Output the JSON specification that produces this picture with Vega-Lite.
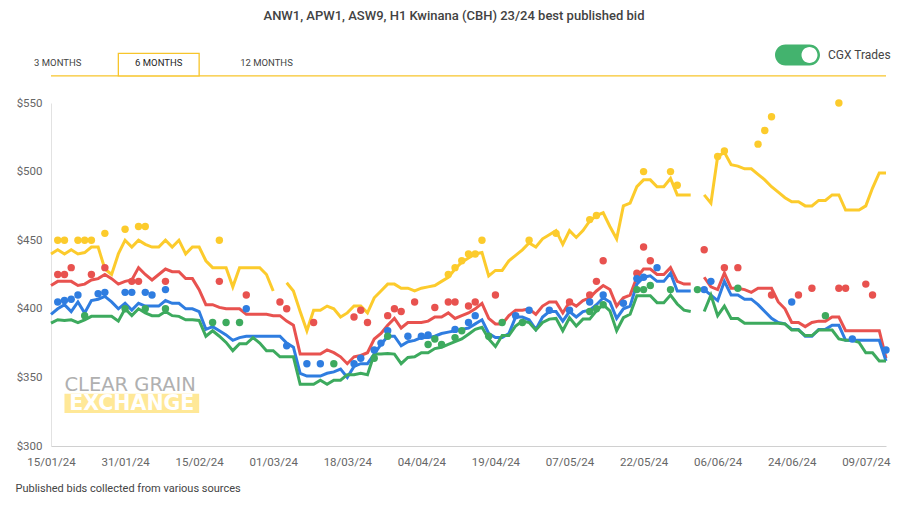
{
  "$schema": "https://vega.github.io/schema/vega-lite/v6.json",
  "width": 835,
  "height": 343,
  "autosize": {"type": "none"},
  "padding": {"left": 51, "top": 103, "right": 22, "bottom": 59},
  "background": "white",
  "config": {
    "view": {"stroke": null},
    "font": "Roboto",
    "legend": {"padding": 0, "titlePadding": 0}
  },
  "title": {
    "text": "ANW1, APW1, ASW9, H1 Kwinana (CBH) 23/24 best published bid",
    "anchor": "middle",
    "frame": "group",
    "dx": -14.5,
    "offset": 20,
    "baseline": "middle",
    "font": "Roboto",
    "fontSize": 13,
    "fontWeight": 500,
    "color": "#424242"
  },
  "datasets": {
    "lines": [
      {"d":"15/01/24","H1":440,"ANW1":417,"APW1":396,"ASW9":389.5},
      {"d":"16/01/24","H1":443,"ANW1":420,"APW1":400,"ASW9":392},
      {"d":"17/01/24","H1":440,"ANW1":420,"APW1":403,"ASW9":391.5},
      {"d":"18/01/24","H1":443,"ANW1":420,"APW1":398,"ASW9":392},
      {"d":"19/01/24","H1":440,"ANW1":417,"APW1":405,"ASW9":390},
      {"d":"22/01/24","H1":441,"ANW1":418,"APW1":397,"ASW9":392},
      {"d":"23/01/24","H1":445,"ANW1":421,"APW1":406,"ASW9":394.5},
      {"d":"24/01/24","H1":445,"ANW1":422,"APW1":407,"ASW9":394.5},
      {"d":"25/01/24","H1":429,"ANW1":425,"APW1":409,"ASW9":394.5},
      {"d":"29/01/24","H1":425,"ANW1":422,"APW1":405,"ASW9":394.5},
      {"d":"30/01/24","H1":440,"ANW1":418,"APW1":400,"ASW9":391},
      {"d":"31/01/24","H1":450,"ANW1":420,"APW1":404,"ASW9":400},
      {"d":"01/02/24","H1":445,"ANW1":421,"APW1":399,"ASW9":395},
      {"d":"02/02/24","H1":450,"ANW1":430,"APW1":404,"ASW9":400},
      {"d":"05/02/24","H1":447,"ANW1":425,"APW1":402,"ASW9":397},
      {"d":"06/02/24","H1":445,"ANW1":421,"APW1":402,"ASW9":395},
      {"d":"07/02/24","H1":445,"ANW1":425,"APW1":402,"ASW9":395},
      {"d":"08/02/24","H1":450,"ANW1":429,"APW1":406,"ASW9":398},
      {"d":"09/02/24","H1":445,"ANW1":427,"APW1":404,"ASW9":395},
      {"d":"12/02/24","H1":450,"ANW1":427,"APW1":404,"ASW9":394.5},
      {"d":"13/02/24","H1":440,"ANW1":422,"APW1":400,"ASW9":392},
      {"d":"14/02/24","H1":445,"ANW1":422,"APW1":400,"ASW9":392},
      {"d":"15/02/24","H1":445,"ANW1":414,"APW1":398,"ASW9":391.5},
      {"d":"16/02/24","H1":435,"ANW1":403,"APW1":385,"ASW9":380},
      {"d":"19/02/24","H1":430,"ANW1":403,"APW1":387,"ASW9":384},
      {"d":"20/02/24","H1":430,"ANW1":401,"APW1":384,"ASW9":380},
      {"d":"21/02/24","H1":430,"ANW1":400,"APW1":381,"ASW9":375.5},
      {"d":"22/02/24","H1":416,"ANW1":400,"APW1":377,"ASW9":369.5},
      {"d":"23/02/24","H1":430,"ANW1":400,"APW1":379,"ASW9":374.5},
      {"d":"26/02/24","H1":430,"ANW1":396,"APW1":380,"ASW9":374.5},
      {"d":"27/02/24","H1":430,"ANW1":396,"APW1":380,"ASW9":379},
      {"d":"28/02/24","H1":430,"ANW1":396,"APW1":380,"ASW9":375},
      {"d":"29/02/24","H1":425,"ANW1":396,"APW1":380,"ASW9":369.5},
      {"d":"01/03/24","H1":413,"ANW1":395,"APW1":380,"ASW9":369.5},
      {"d":"04/03/24","H1":null,"ANW1":395,"APW1":380,"ASW9":365},
      {"d":"05/03/24","H1":419,"ANW1":391,"APW1":375,"ASW9":365},
      {"d":"06/03/24","H1":413,"ANW1":388,"APW1":372,"ASW9":365},
      {"d":"07/03/24","H1":398,"ANW1":367,"APW1":353,"ASW9":345},
      {"d":"08/03/24","H1":384,"ANW1":367,"APW1":351,"ASW9":345},
      {"d":"11/03/24","H1":399,"ANW1":367,"APW1":351,"ASW9":345},
      {"d":"12/03/24","H1":399,"ANW1":367,"APW1":351,"ASW9":348},
      {"d":"13/03/24","H1":402,"ANW1":370,"APW1":353,"ASW9":345},
      {"d":"14/03/24","H1":400,"ANW1":368,"APW1":354,"ASW9":348},
      {"d":"15/03/24","H1":394,"ANW1":365,"APW1":356,"ASW9":348},
      {"d":"18/03/24","H1":397,"ANW1":360,"APW1":350,"ASW9":352},
      {"d":"19/03/24","H1":402,"ANW1":365,"APW1":358,"ASW9":352},
      {"d":"20/03/24","H1":402,"ANW1":366,"APW1":360,"ASW9":353},
      {"d":"21/03/24","H1":397,"ANW1":368,"APW1":360,"ASW9":352},
      {"d":"22/03/24","H1":408,"ANW1":378,"APW1":367,"ASW9":367},
      {"d":"25/03/24","H1":413,"ANW1":382,"APW1":374,"ASW9":367},
      {"d":"26/03/24","H1":418,"ANW1":388,"APW1":380,"ASW9":367.5},
      {"d":"27/03/24","H1":418,"ANW1":393,"APW1":380,"ASW9":367},
      {"d":"28/03/24","H1":415,"ANW1":386,"APW1":373,"ASW9":360},
      {"d":"02/04/24","H1":415,"ANW1":390,"APW1":376,"ASW9":364.5},
      {"d":"03/04/24","H1":413,"ANW1":390,"APW1":377,"ASW9":365},
      {"d":"04/04/24","H1":415,"ANW1":390,"APW1":379,"ASW9":368},
      {"d":"05/04/24","H1":416,"ANW1":391,"APW1":379,"ASW9":368},
      {"d":"08/04/24","H1":417,"ANW1":394,"APW1":380,"ASW9":371},
      {"d":"09/04/24","H1":420,"ANW1":394,"APW1":382,"ASW9":372},
      {"d":"10/04/24","H1":423,"ANW1":397,"APW1":383,"ASW9":374},
      {"d":"11/04/24","H1":429,"ANW1":393,"APW1":384,"ASW9":376},
      {"d":"12/04/24","H1":434,"ANW1":395,"APW1":385,"ASW9":378},
      {"d":"15/04/24","H1":437,"ANW1":397,"APW1":386,"ASW9":381.5},
      {"d":"16/04/24","H1":440,"ANW1":400,"APW1":389,"ASW9":385},
      {"d":"17/04/24","H1":441,"ANW1":404,"APW1":392,"ASW9":386.5},
      {"d":"18/04/24","H1":424,"ANW1":393,"APW1":382,"ASW9":378},
      {"d":"19/04/24","H1":428,"ANW1":389,"APW1":379,"ASW9":372.5},
      {"d":"22/04/24","H1":428,"ANW1":389,"APW1":379,"ASW9":380.5},
      {"d":"23/04/24","H1":435,"ANW1":395,"APW1":382,"ASW9":380.5},
      {"d":"24/04/24","H1":439,"ANW1":399,"APW1":394,"ASW9":387.5},
      {"d":"26/04/24","H1":443,"ANW1":399,"APW1":394,"ASW9":391},
      {"d":"29/04/24","H1":448,"ANW1":400,"APW1":392,"ASW9":390},
      {"d":"30/04/24","H1":445,"ANW1":396,"APW1":385,"ASW9":384.5},
      {"d":"01/05/24","H1":451,"ANW1":402,"APW1":394,"ASW9":390},
      {"d":"02/05/24","H1":454,"ANW1":405,"APW1":398,"ASW9":392.5},
      {"d":"03/05/24","H1":457,"ANW1":405,"APW1":398,"ASW9":393},
      {"d":"06/05/24","H1":447,"ANW1":397,"APW1":391,"ASW9":384},
      {"d":"07/05/24","H1":457,"ANW1":405,"APW1":398,"ASW9":393.5},
      {"d":"08/05/24","H1":452,"ANW1":402,"APW1":394,"ASW9":387.5},
      {"d":"09/05/24","H1":457,"ANW1":406,"APW1":398,"ASW9":392.5},
      {"d":"10/05/24","H1":464,"ANW1":408,"APW1":399,"ASW9":392.5},
      {"d":"13/05/24","H1":468,"ANW1":413,"APW1":403,"ASW9":398.5},
      {"d":"14/05/24","H1":470,"ANW1":417,"APW1":408,"ASW9":403},
      {"d":"15/05/24","H1":460,"ANW1":414,"APW1":405,"ASW9":398.5},
      {"d":"16/05/24","H1":451,"ANW1":402,"APW1":393,"ASW9":384},
      {"d":"17/05/24","H1":475,"ANW1":408,"APW1":400,"ASW9":393.5},
      {"d":"20/05/24","H1":477,"ANW1":410,"APW1":402,"ASW9":396},
      {"d":"21/05/24","H1":489,"ANW1":423,"APW1":418,"ASW9":409.5},
      {"d":"22/05/24","H1":494,"ANW1":429,"APW1":423,"ASW9":409.5},
      {"d":"23/05/24","H1":494,"ANW1":429,"APW1":424,"ASW9":409.5},
      {"d":"24/05/24","H1":489,"ANW1":425,"APW1":420,"ASW9":404.5},
      {"d":"27/05/24","H1":489,"ANW1":425,"APW1":420,"ASW9":404.5},
      {"d":"28/05/24","H1":495,"ANW1":430,"APW1":426,"ASW9":410},
      {"d":"29/05/24","H1":483,"ANW1":420,"APW1":413,"ASW9":403.5},
      {"d":"30/05/24","H1":483,"ANW1":418,"APW1":413,"ASW9":399},
      {"d":"31/05/24","H1":483,"ANW1":418,"APW1":413,"ASW9":398},
      {"d":"03/06/24","H1":null,"ANW1":null,"APW1":null,"ASW9":null},
      {"d":"04/06/24","H1":483,"ANW1":423,"APW1":414,"ASW9":398},
      {"d":"05/06/24","H1":477,"ANW1":416,"APW1":410,"ASW9":410},
      {"d":"06/06/24","H1":511,"ANW1":414,"APW1":406,"ASW9":395},
      {"d":"07/06/24","H1":514,"ANW1":426,"APW1":420,"ASW9":402},
      {"d":"11/06/24","H1":505,"ANW1":415,"APW1":410,"ASW9":393},
      {"d":"12/06/24","H1":504,"ANW1":415,"APW1":410,"ASW9":393},
      {"d":"13/06/24","H1":502,"ANW1":414,"APW1":407,"ASW9":389.5},
      {"d":"14/06/24","H1":502,"ANW1":412,"APW1":407,"ASW9":389.5},
      {"d":"17/06/24","H1":498,"ANW1":415,"APW1":403,"ASW9":389.5},
      {"d":"18/06/24","H1":494,"ANW1":415,"APW1":398,"ASW9":389.5},
      {"d":"19/06/24","H1":489,"ANW1":415,"APW1":393,"ASW9":389.5},
      {"d":"20/06/24","H1":485,"ANW1":405,"APW1":390,"ASW9":389.5},
      {"d":"21/06/24","H1":481,"ANW1":400,"APW1":389,"ASW9":389},
      {"d":"24/06/24","H1":478,"ANW1":390,"APW1":385,"ASW9":384.5},
      {"d":"25/06/24","H1":478,"ANW1":390,"APW1":385,"ASW9":384.5},
      {"d":"26/06/24","H1":475,"ANW1":387,"APW1":380,"ASW9":380.5},
      {"d":"27/06/24","H1":475,"ANW1":390,"APW1":380,"ASW9":380.5},
      {"d":"28/06/24","H1":479,"ANW1":391,"APW1":385,"ASW9":384.5},
      {"d":"01/07/24","H1":479,"ANW1":391,"APW1":385,"ASW9":384.5},
      {"d":"02/07/24","H1":483,"ANW1":394,"APW1":388,"ASW9":384.5},
      {"d":"03/07/24","H1":483,"ANW1":394,"APW1":388,"ASW9":378},
      {"d":"04/07/24","H1":472,"ANW1":384,"APW1":377,"ASW9":377},
      {"d":"05/07/24","H1":472,"ANW1":384,"APW1":377,"ASW9":377},
      {"d":"08/07/24","H1":472,"ANW1":384,"APW1":377,"ASW9":375.5},
      {"d":"09/07/24","H1":475,"ANW1":384,"APW1":377,"ASW9":368},
      {"d":"10/07/24","H1":488,"ANW1":384,"APW1":377,"ASW9":368},
      {"d":"11/07/24","H1":499,"ANW1":384,"APW1":377,"ASW9":362},
      {"d":"12/07/24","H1":499,"ANW1":364,"APW1":362,"ASW9":362}
    ],
    "trades": [
      {"d":"16/01/24","s":"H1","v":450},{"d":"17/01/24","s":"H1","v":450},{"d":"19/01/24","s":"H1","v":450},
      {"d":"22/01/24","s":"H1","v":450},{"d":"23/01/24","s":"H1","v":450},{"d":"25/01/24","s":"H1","v":455},
      {"d":"31/01/24","s":"H1","v":458},{"d":"02/02/24","s":"H1","v":460},{"d":"05/02/24","s":"H1","v":460},
      {"d":"20/02/24","s":"H1","v":450},{"d":"10/04/24","s":"H1","v":425},{"d":"11/04/24","s":"H1","v":430},
      {"d":"12/04/24","s":"H1","v":435},{"d":"15/04/24","s":"H1","v":440},{"d":"16/04/24","s":"H1","v":440},
      {"d":"17/04/24","s":"H1","v":450},{"d":"29/04/24","s":"H1","v":450},{"d":"03/05/24","s":"H1","v":455},
      {"d":"10/05/24","s":"H1","v":465},{"d":"13/05/24","s":"H1","v":468},{"d":"22/05/24","s":"H1","v":500},
      {"d":"28/05/24","s":"H1","v":500},{"d":"29/05/24","s":"H1","v":490},{"d":"06/06/24","s":"H1","v":511},
      {"d":"07/06/24","s":"H1","v":515},{"d":"17/06/24","s":"H1","v":520},{"d":"18/06/24","s":"H1","v":530},
      {"d":"19/06/24","s":"H1","v":540},{"d":"03/07/24","s":"H1","v":550},
      {"d":"16/01/24","s":"ANW1","v":425},{"d":"17/01/24","s":"ANW1","v":425},{"d":"18/01/24","s":"ANW1","v":430},
      {"d":"23/01/24","s":"ANW1","v":425},{"d":"25/01/24","s":"ANW1","v":430},{"d":"01/02/24","s":"ANW1","v":420},
      {"d":"02/02/24","s":"ANW1","v":420},{"d":"08/02/24","s":"ANW1","v":420},{"d":"20/02/24","s":"ANW1","v":420},
      {"d":"26/02/24","s":"ANW1","v":410},{"d":"04/03/24","s":"ANW1","v":405},{"d":"05/03/24","s":"ANW1","v":400},
      {"d":"11/03/24","s":"ANW1","v":390},{"d":"19/03/24","s":"ANW1","v":394},{"d":"20/03/24","s":"ANW1","v":399},
      {"d":"21/03/24","s":"ANW1","v":390},{"d":"26/03/24","s":"ANW1","v":395},{"d":"27/03/24","s":"ANW1","v":400},
      {"d":"28/03/24","s":"ANW1","v":398},{"d":"03/04/24","s":"ANW1","v":405},{"d":"08/04/24","s":"ANW1","v":401},
      {"d":"10/04/24","s":"ANW1","v":405},{"d":"11/04/24","s":"ANW1","v":405},{"d":"15/04/24","s":"ANW1","v":402},
      {"d":"16/04/24","s":"ANW1","v":405},{"d":"19/04/24","s":"ANW1","v":410},{"d":"07/05/24","s":"ANW1","v":405},
      {"d":"10/05/24","s":"ANW1","v":410},{"d":"13/05/24","s":"ANW1","v":420},{"d":"14/05/24","s":"ANW1","v":435},
      {"d":"21/05/24","s":"ANW1","v":426},{"d":"22/05/24","s":"ANW1","v":445},{"d":"23/05/24","s":"ANW1","v":435},
      {"d":"04/06/24","s":"ANW1","v":443},{"d":"07/06/24","s":"ANW1","v":430},{"d":"12/06/24","s":"ANW1","v":430},
      {"d":"19/06/24","s":"ANW1","v":410},{"d":"25/06/24","s":"ANW1","v":410},{"d":"27/06/24","s":"ANW1","v":415},
      {"d":"03/07/24","s":"ANW1","v":415},{"d":"04/07/24","s":"ANW1","v":415},{"d":"09/07/24","s":"ANW1","v":418},
      {"d":"10/07/24","s":"ANW1","v":410},
      {"d":"16/01/24","s":"APW1","v":405},{"d":"17/01/24","s":"APW1","v":406},{"d":"18/01/24","s":"APW1","v":407},
      {"d":"19/01/24","s":"APW1","v":410},{"d":"24/01/24","s":"APW1","v":411},{"d":"25/01/24","s":"APW1","v":412},
      {"d":"31/01/24","s":"APW1","v":412},{"d":"01/02/24","s":"APW1","v":412},{"d":"05/02/24","s":"APW1","v":412},
      {"d":"06/02/24","s":"APW1","v":410},{"d":"08/02/24","s":"APW1","v":414},{"d":"26/02/24","s":"APW1","v":400},
      {"d":"05/03/24","s":"APW1","v":373},{"d":"08/03/24","s":"APW1","v":360},{"d":"12/03/24","s":"APW1","v":360},
      {"d":"19/03/24","s":"APW1","v":360},{"d":"20/03/24","s":"APW1","v":364},{"d":"22/03/24","s":"APW1","v":370},
      {"d":"25/03/24","s":"APW1","v":375},{"d":"26/03/24","s":"APW1","v":384},{"d":"02/04/24","s":"APW1","v":380},
      {"d":"04/04/24","s":"APW1","v":380},{"d":"05/04/24","s":"APW1","v":381},{"d":"11/04/24","s":"APW1","v":385},
      {"d":"15/04/24","s":"APW1","v":390},{"d":"16/04/24","s":"APW1","v":395},{"d":"24/04/24","s":"APW1","v":395},
      {"d":"29/04/24","s":"APW1","v":399},{"d":"02/05/24","s":"APW1","v":399},{"d":"07/05/24","s":"APW1","v":399},
      {"d":"10/05/24","s":"APW1","v":405},{"d":"14/05/24","s":"APW1","v":410},{"d":"17/05/24","s":"APW1","v":404},
      {"d":"21/05/24","s":"APW1","v":422},{"d":"22/05/24","s":"APW1","v":423},{"d":"24/05/24","s":"APW1","v":430},
      {"d":"04/06/24","s":"APW1","v":414},{"d":"05/06/24","s":"APW1","v":420},{"d":"24/06/24","s":"APW1","v":405},
      {"d":"05/07/24","s":"APW1","v":378},{"d":"12/07/24","s":"APW1","v":370},
      {"d":"22/01/24","s":"ASW9","v":395},{"d":"31/01/24","s":"ASW9","v":400},{"d":"05/02/24","s":"ASW9","v":400},
      {"d":"08/02/24","s":"ASW9","v":400},{"d":"19/02/24","s":"ASW9","v":390},{"d":"21/02/24","s":"ASW9","v":390},
      {"d":"23/02/24","s":"ASW9","v":390},{"d":"14/03/24","s":"ASW9","v":360},{"d":"22/03/24","s":"ASW9","v":364},
      {"d":"26/03/24","s":"ASW9","v":380},{"d":"05/04/24","s":"ASW9","v":374},{"d":"08/04/24","s":"ASW9","v":378},
      {"d":"09/04/24","s":"ASW9","v":374},{"d":"11/04/24","s":"ASW9","v":379},{"d":"12/04/24","s":"ASW9","v":384},
      {"d":"18/04/24","s":"ASW9","v":380},{"d":"22/04/24","s":"ASW9","v":390},{"d":"26/04/24","s":"ASW9","v":390},
      {"d":"10/05/24","s":"ASW9","v":398},{"d":"13/05/24","s":"ASW9","v":400},{"d":"14/05/24","s":"ASW9","v":403},
      {"d":"21/05/24","s":"ASW9","v":414},{"d":"22/05/24","s":"ASW9","v":414},{"d":"23/05/24","s":"ASW9","v":417},
      {"d":"28/05/24","s":"ASW9","v":414},{"d":"03/06/24","s":"ASW9","v":414},{"d":"12/06/24","s":"ASW9","v":415},
      {"d":"01/07/24","s":"ASW9","v":395}
    ]
  },
  "layer": [
    {
      "data": {"values": [{"band": "tabline"}]},
      "mark": {"type": "rule", "color": "#F7C52B", "strokeWidth": 1.3},
      "encoding": {
        "y": {"datum": 569.7, "type": "quantitative", "scale": {"domain": [300, 550]}}
      }
    },
    {
      "data": {"values": [{"band": "tabbox"}]},
      "mark": {"type": "rect", "fill": "#ffffff", "stroke": "#F7C52B", "strokeWidth": 1.3},
      "encoding": {
        "x": {"datum": "30/01/24", "type": "ordinal"},
        "x2": {"datum": "15/02/24"},
        "y": {"datum": 586.1, "type": "quantitative", "scale": {"domain": [300, 550]}},
        "y2": {"datum": 569.7}
      }
    },
    {
      "data": {"values": [{"label": "3 MONTHS"}]},
      "mark": {"type": "text", "align": "center", "baseline": "middle", "font": "Roboto", "fontSize": 9.5, "color": "#444444"},
      "encoding": {
        "x": {"datum": "16/01/24", "type": "ordinal"},
        "y": {"datum": 578.8, "type": "quantitative", "scale": {"domain": [300, 550]}},
        "text": {"field": "label"}
      }
    },
    {
      "data": {"values": [{"label": "6 MONTHS"}]},
      "mark": {"type": "text", "align": "center", "baseline": "middle", "font": "Roboto", "fontSize": 9.5, "color": "#1f1f1f"},
      "encoding": {
        "x": {"datum": "07/02/24", "type": "ordinal"},
        "y": {"datum": 578.8, "type": "quantitative", "scale": {"domain": [300, 550]}},
        "text": {"field": "label"}
      }
    },
    {
      "data": {"values": [{"label": "12 MONTHS"}]},
      "mark": {"type": "text", "align": "center", "baseline": "middle", "font": "Roboto", "fontSize": 9.5, "color": "#444444"},
      "encoding": {
        "x": {"datum": "29/02/24", "type": "ordinal"},
        "y": {"datum": 578.8, "type": "quantitative", "scale": {"domain": [300, 550]}},
        "text": {"field": "label"}
      }
    },
    {
      "data": {"values": [{"band": "logo"}]},
      "mark": {"type": "rect", "color": "#FFE58C", "opacity": 0.9},
      "encoding": {
        "x": {"datum": "17/01/24", "type": "ordinal"},
        "x2": {"datum": "15/02/24"},
        "y": {"datum": 324, "type": "quantitative", "scale": {"domain": [300, 550]}},
        "y2": {"datum": 338}
      }
    },
    {
      "data": {"values": [{"label": "CLEAR GRAIN"}]},
      "mark": {"type": "text", "align": "left", "baseline": "alphabetic", "font": "DejaVu Sans", "fontSize": 19.5, "color": "#b0b0b0"},
      "encoding": {
        "x": {"datum": "17/01/24", "type": "ordinal"},
        "y": {"datum": 340.2, "type": "quantitative", "scale": {"domain": [300, 550]}},
        "text": {"field": "label"}
      }
    },
    {
      "data": {"values": [{"label": "EXCHANGE"}]},
      "mark": {"type": "text", "align": "center", "baseline": "middle", "font": "DejaVu Sans", "fontSize": 20.5, "fontWeight": "bold", "color": "#ffffff"},
      "encoding": {
        "x": {"datum": "01/02/24", "type": "ordinal"},
        "y": {"datum": 330.6, "type": "quantitative", "scale": {"domain": [300, 550]}},
        "text": {"field": "label"}
      }
    },
    {
      "data": {"name": "lines"},
      "transform": [{"fold": ["H1", "ANW1", "APW1", "ASW9"], "as": ["s", "v"]}],
      "mark": {"type": "line", "strokeWidth": 3, "invalid": "break-paths-filter-domains"},
      "encoding": {
        "x": {
          "field": "d",
          "type": "ordinal",
          "scale": {
            "type": "point",
            "padding": 0,
            "domain": ["15/01/24","16/01/24","17/01/24","18/01/24","19/01/24","22/01/24","23/01/24","24/01/24","25/01/24","29/01/24","30/01/24","31/01/24","01/02/24","02/02/24","05/02/24","06/02/24","07/02/24","08/02/24","09/02/24","12/02/24","13/02/24","14/02/24","15/02/24","16/02/24","19/02/24","20/02/24","21/02/24","22/02/24","23/02/24","26/02/24","27/02/24","28/02/24","29/02/24","01/03/24","04/03/24","05/03/24","06/03/24","07/03/24","08/03/24","11/03/24","12/03/24","13/03/24","14/03/24","15/03/24","18/03/24","19/03/24","20/03/24","21/03/24","22/03/24","25/03/24","26/03/24","27/03/24","28/03/24","02/04/24","03/04/24","04/04/24","05/04/24","08/04/24","09/04/24","10/04/24","11/04/24","12/04/24","15/04/24","16/04/24","17/04/24","18/04/24","19/04/24","22/04/24","23/04/24","24/04/24","26/04/24","29/04/24","30/04/24","01/05/24","02/05/24","03/05/24","06/05/24","07/05/24","08/05/24","09/05/24","10/05/24","13/05/24","14/05/24","15/05/24","16/05/24","17/05/24","20/05/24","21/05/24","22/05/24","23/05/24","24/05/24","27/05/24","28/05/24","29/05/24","30/05/24","31/05/24","03/06/24","04/06/24","05/06/24","06/06/24","07/06/24","11/06/24","12/06/24","13/06/24","14/06/24","17/06/24","18/06/24","19/06/24","20/06/24","21/06/24","24/06/24","25/06/24","26/06/24","27/06/24","28/06/24","01/07/24","02/07/24","03/07/24","04/07/24","05/07/24","08/07/24","09/07/24","10/07/24","11/07/24","12/07/24"]
          },
          "axis": {
            "values": ["15/01/24","31/01/24","15/02/24","01/03/24","18/03/24","04/04/24","19/04/24","07/05/24","22/05/24","06/06/24","24/06/24","09/07/24"],
            "labelAngle": 0,
            "labelAlign": "center",
            "ticks": false,
            "grid": false,
            "domainColor": "#d0d0d0",
            "labelColor": "#666666",
            "labelFont": "Roboto",
            "labelFontSize": 11.5,
            "labelPadding": 16,
            "title": "Published bids collected from various sources",
            "titleX": -36,
            "titleY": 42,
            "titleAlign": "left",
            "titleAnchor": "start",
            "titleBaseline": "middle",
            "titleFont": "Roboto",
            "titleFontSize": 11,
            "titleFontWeight": "normal",
            "titleColor": "#444444"
          }
        },
        "y": {
          "field": "v",
          "type": "quantitative",
          "scale": {"domain": [300, 550], "nice": false, "zero": false},
          "axis": {
            "values": [300, 350, 400, 450, 500, 550],
            "labelExpr": "'$' + datum.value",
            "title": null,
            "ticks": false,
            "domain": true,
            "domainColor": "#e2e2e2",
            "gridColor": "#e8e8e8",
            "labelColor": "#666666",
            "labelFont": "Roboto",
            "labelFontSize": 11.5,
            "labelPadding": 9
          }
        },
        "color": {
          "field": "s",
          "type": "nominal",
          "scale": {"domain": ["H1", "ANW1", "APW1", "ASW9"], "range": ["#FCCB2C", "#E8524F", "#2F7DE0", "#3DAA5E"]},
          "legend": null
        }
      }
    },
    {
      "data": {"name": "trades"},
      "mark": {"type": "circle", "size": 55, "opacity": 1},
      "encoding": {
        "x": {
          "field": "d",
          "type": "ordinal",
          "scale": {
            "type": "point",
            "padding": 0,
            "domain": ["15/01/24","16/01/24","17/01/24","18/01/24","19/01/24","22/01/24","23/01/24","24/01/24","25/01/24","29/01/24","30/01/24","31/01/24","01/02/24","02/02/24","05/02/24","06/02/24","07/02/24","08/02/24","09/02/24","12/02/24","13/02/24","14/02/24","15/02/24","16/02/24","19/02/24","20/02/24","21/02/24","22/02/24","23/02/24","26/02/24","27/02/24","28/02/24","29/02/24","01/03/24","04/03/24","05/03/24","06/03/24","07/03/24","08/03/24","11/03/24","12/03/24","13/03/24","14/03/24","15/03/24","18/03/24","19/03/24","20/03/24","21/03/24","22/03/24","25/03/24","26/03/24","27/03/24","28/03/24","02/04/24","03/04/24","04/04/24","05/04/24","08/04/24","09/04/24","10/04/24","11/04/24","12/04/24","15/04/24","16/04/24","17/04/24","18/04/24","19/04/24","22/04/24","23/04/24","24/04/24","26/04/24","29/04/24","30/04/24","01/05/24","02/05/24","03/05/24","06/05/24","07/05/24","08/05/24","09/05/24","10/05/24","13/05/24","14/05/24","15/05/24","16/05/24","17/05/24","20/05/24","21/05/24","22/05/24","23/05/24","24/05/24","27/05/24","28/05/24","29/05/24","30/05/24","31/05/24","03/06/24","04/06/24","05/06/24","06/06/24","07/06/24","11/06/24","12/06/24","13/06/24","14/06/24","17/06/24","18/06/24","19/06/24","20/06/24","21/06/24","24/06/24","25/06/24","26/06/24","27/06/24","28/06/24","01/07/24","02/07/24","03/07/24","04/07/24","05/07/24","08/07/24","09/07/24","10/07/24","11/07/24","12/07/24"]
          }
        },
        "y": {"field": "v", "type": "quantitative", "scale": {"domain": [300, 550]}},
        "color": {"field": "s", "type": "nominal", "legend": null}
      }
    },
    {
      "data": {"values": [{"a": 0}]},
      "transform": [{"filter": "datum.a > 0"}],
      "mark": {"type": "point", "filled": true, "color": "#43B36E", "opacity": 1},
      "encoding": {
        "shape": {
          "datum": "CGX Trades",
          "scale": {"range": ["M-12,-10.5 L12,-10.5 A10.5,10.5 0 0 1 12,10.5 L-12,10.5 A10.5,10.5 0 0 1 -12,-10.5 Z M20,0 A8,8 0 0 0 4,0 A8,8 0 0 0 20,0 Z"]},
          "legend": {"orient": "none", "legendX": 740.5, "legendY": -54, "title": null, "symbolSize": 4, "symbolStrokeWidth": 0, "symbolFillColor": "#43B36E", "labelFont": "Roboto", "labelFontSize": 12, "labelColor": "#444444", "labelOffset": 24.5}
        }
      }
    }
  ]
}
